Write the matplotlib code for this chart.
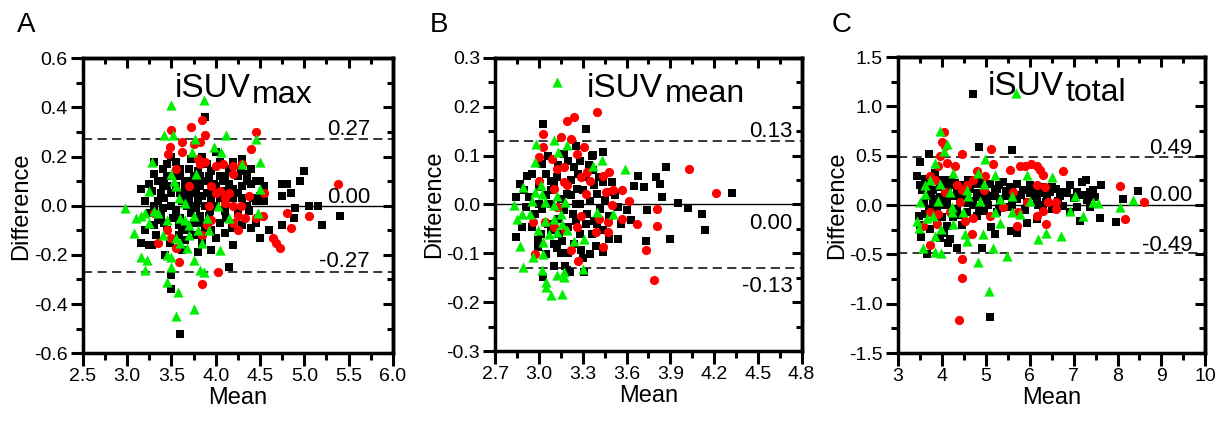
import numpy as np
import matplotlib
matplotlib.use("Agg")
import matplotlib.pyplot as plt
from matplotlib.ticker import MultipleLocator, FuncFormatter

plt.rcParams['font.family'] = ['Liberation Sans', 'DejaVu Sans']

# ---- panel A: iSUVmax (mean, difference) ----
a_squares = [(3.88, 0.36), (3.3, 0.18), (3.4, 0.15), (3.45, 0.12), (3.5, 0.2), (3.55, 0.18), (3.6, 0.15),
             (3.65, 0.1), (3.15, 0.07), (3.25, 0.09), (3.28, 0.06), (3.38, 0.05), (3.42, 0.03), (3.45, 0.08),
             (3.6, 0.05), (3.7, 0.03), (3.75, 0.12), (3.78, 0.07), (3.8, 0.02), (3.82, 0.08), (3.85, 0.1),
             (3.9, 0.05), (3.92, 0.12), (3.95, 0.02), (4.0, 0.22), (4.05, 0.18), (4.1, 0.12), (4.15, 0.09),
             (4.2, 0.18), (4.25, 0.12), (4.3, 0.19), (4.35, 0.13), (4.4, 0.09), (4.45, 0.1), (4.5, 0.1),
             (4.55, 0.02), (4.75, 0.09), (4.8, 0.09), (4.85, 0.05), (4.75, 0.04), (4.95, 0.1), (5.0, 0.14),
             (4.9, -0.01), (4.88, -0.05), (5.05, 0.0), (5.15, 0.0), (5.2, -0.08), (5.4, -0.04), (4.75, -0.08),
             (3.15, -0.15), (3.2, -0.1), (3.25, -0.16), (3.3, -0.08), (3.35, -0.06), (3.38, -0.04), (3.45, -0.1),
             (3.48, -0.15), (3.5, -0.28), (3.5, -0.34), (3.6, -0.52), (3.43, -0.2), (3.62, -0.18), (3.65, -0.14),
             (3.7, -0.1), (3.75, -0.07), (3.8, -0.19), (3.85, -0.15), (3.95, -0.18), (4.0, -0.13), (4.05, -0.07),
             (4.1, -0.11), (4.15, -0.25), (4.2, -0.16), (4.12, -0.05), (4.3, -0.08), (4.38, -0.02), (4.4, -0.09),
             (4.5, -0.13), (4.45, -0.07), (3.5, 0.0), (3.55, -0.02), (3.6, -0.05), (3.68, 0.0), (3.72, -0.03),
             (3.78, -0.01), (3.82, -0.04), (3.88, 0.0), (3.93, -0.02), (4.0, 0.0), (4.05, 0.03), (4.15, 0.03),
             (4.25, 0.05), (4.35, 0.0), (4.42, 0.03), (4.5, 0.04), (3.2, 0.02), (3.25, -0.03), (3.35, 0.02),
             (3.4, -0.01), (3.68, 0.05), (3.72, 0.1), (3.8, 0.14), (3.85, 0.2), (3.9, 0.17), (3.95, 0.14),
             (3.98, 0.09), (3.6, 0.12), (3.55, 0.08), (3.5, 0.05), (3.62, -0.1), (3.58, -0.08), (4.3, 0.08),
             (4.2, 0.07), (4.1, 0.06), (3.75, 0.05), (3.85, 0.04), (3.42, 0.1), (3.32, -0.12), (3.28, -0.16),
             (3.65, 0.07), (3.7, 0.15), (3.75, 0.0), (3.8, 0.1), (3.85, -0.07), (3.9, 0.1), (3.95, -0.1),
             (4.0, 0.08), (4.05, 0.12), (4.1, -0.02), (4.15, 0.15), (4.2, 0.03), (4.25, -0.02), (4.3, 0.03),
             (4.35, 0.1), (4.4, 0.15), (4.45, 0.02), (3.55, 0.12), (3.45, 0.17), (3.35, 0.1), (3.3, 0.0),
             (3.58, -0.12), (3.68, -0.08), (3.78, -0.12), (3.88, -0.09), (3.72, 0.19), (3.62, 0.02),
             (3.52, -0.05), (3.42, -0.07), (4.55, 0.08), (4.6, -0.1), (4.08, 0.1), (3.98, 0.05), (3.82, 0.12),
             (3.92, -0.04), (4.18, -0.09), (4.28, 0.14), (3.4, 0.08), (3.3, 0.13)]
a_circles = [(3.5, 0.31), (3.72, 0.32), (3.85, 0.35), (3.88, 0.29), (3.82, 0.26), (3.75, 0.25), (3.62, 0.26),
             (3.48, 0.24), (3.46, 0.21), (3.62, 0.22), (3.8, 0.19), (3.82, 0.17), (3.88, 0.18), (4.45, 0.3),
             (4.4, 0.23), (4.3, 0.17), (4.2, 0.16), (4.08, 0.17), (4.0, 0.16), (4.2, 0.13), (3.55, 0.15),
             (3.7, 0.08), (3.95, 0.08), (4.05, 0.06), (4.15, 0.05), (3.92, 0.0), (4.2, 0.0), (4.28, 0.0),
             (4.1, 0.01), (4.38, 0.04), (4.45, -0.05), (4.53, -0.04), (4.55, 0.05), (3.3, -0.03), (3.45, -0.1),
             (3.35, -0.15), (3.5, -0.13), (3.55, -0.17), (3.58, -0.23), (3.85, -0.12), (3.9, -0.08),
             (3.95, -0.06), (4.2, -0.07), (4.25, -0.04), (4.33, -0.05), (4.25, -0.1), (4.65, -0.13),
             (4.68, -0.15), (4.72, -0.17), (4.8, -0.03), (4.85, -0.09), (5.05, -0.04), (5.38, 0.09),
             (4.02, -0.27), (3.85, -0.32), (4.1, 0.03), (4.0, 0.05)]
a_triangles = [(2.97, -0.01), (3.5, 0.41), (3.87, 0.43), (3.42, 0.29), (3.52, 0.29), (3.77, 0.27), (4.12, 0.29),
               (4.45, 0.27), (3.98, 0.24), (3.73, 0.22), (4.06, 0.22), (4.3, 0.17), (4.5, 0.18), (3.28, 0.18),
               (3.78, 0.13), (3.5, 0.13), (3.53, 0.1), (3.55, 0.08), (4.5, 0.07), (3.25, 0.06), (3.58, 0.03),
               (3.65, 0.01), (4.03, 0.0), (3.3, -0.02), (3.15, -0.04), (3.2, -0.03), (3.1, -0.05), (3.25, -0.07),
               (3.35, -0.03), (3.45, -0.06), (3.6, -0.05), (3.65, -0.06), (3.7, -0.08), (3.75, -0.04),
               (3.8, -0.1), (3.9, -0.05), (4.15, -0.05), (4.48, -0.03), (3.08, -0.11), (3.4, -0.12),
               (3.55, -0.13), (3.6, -0.15), (3.68, -0.17), (3.85, -0.15), (3.92, -0.1), (4.05, -0.18),
               (3.15, -0.21), (3.22, -0.22), (3.2, -0.26), (3.45, -0.2), (3.5, -0.21), (3.5, -0.25), (3.75, -0.22),
               (3.82, -0.26), (3.87, -0.27), (3.45, -0.31), (3.57, -0.35), (3.55, -0.45), (3.75, -0.42),
               (3.7, -0.12)]

# ---- panel B: iSUVmean ----
b_squares = [(3.03, 0.164), (3.32, 0.154), (3.37, 0.102), (3.44, 0.107), (3.68, 0.059), (3.65, 0.037),
             (3.72, 0.035), (3.80, 0.056), (3.83, 0.042), (3.87, 0.076), (3.84, 0.016), (3.95, 0.003),
             (4.02, -0.007), (4.12, -0.019), (4.14, -0.053), (4.32, 0.024), (3.90, -0.07), (3.74, -0.012),
             (3.73, -0.074), (3.63, -0.031), (3.60, -0.012), (3.54, -0.07), (3.48, -0.07), (3.44, -0.098),
             (3.39, -0.084), (3.35, -0.101), (3.44, -0.053), (3.31, -0.139), (3.21, -0.139), (3.18, -0.125),
             (3.10, -0.125), (3.03, -0.149), (3.19, -0.135), (2.99, -0.087), (2.99, -0.072), (2.84, -0.067),
             (2.88, -0.046), (2.84, 0.015), (2.87, 0.042), (2.92, 0.058), (2.93, 0.015), (2.95, 0.063),
             (3.02, 0.083), (3.05, 0.063), (3.08, 0.049), (3.12, 0.056), (3.17, 0.104), (3.20, 0.09),
             (3.24, 0.076), (3.27, 0.063), (3.32, 0.056), (3.37, 0.07), (3.41, 0.056), (3.44, 0.046),
             (3.50, 0.046), (3.49, 0.025), (3.40, 0.022), (3.35, 0.008), (3.26, 0.032), (3.19, 0.022),
             (3.15, 0.012), (3.08, 0.001), (3.02, -0.009), (3.17, -0.012), (3.23, -0.019), (3.28, 0.001),
             (3.33, -0.019), (3.38, -0.033), (3.32, -0.04), (3.25, -0.033), (3.20, -0.046), (3.14, -0.06),
             (3.08, -0.053), (3.16, -0.074), (3.24, -0.081), (3.29, -0.094), (3.01, -0.06), (2.95, -0.046),
             (2.91, -0.005), (3.10, -0.081), (3.05, -0.101), (3.08, 0.029), (3.00, 0.035), (3.54, -0.005),
             (3.48, -0.023), (3.05, 0.02), (3.1, 0.04), (3.13, -0.03), (3.22, 0.05), (3.25, 0.0), (3.28, -0.06),
             (3.3, 0.03), (3.34, 0.08), (3.38, 0.04), (3.42, -0.01), (3.45, 0.01), (3.36, -0.06), (3.2, -0.1),
             (3.12, -0.09), (3.06, -0.04), (3.0, 0.0), (2.97, -0.02), (3.13, 0.08), (3.22, 0.02), (3.28, 0.09),
             (3.3, -0.11), (3.4, -0.04), (3.52, 0.02), (3.56, -0.04), (3.15, -0.1), (2.9, 0.03), (3.06, 0.1),
             (3.25, 0.12), (3.36, 0.1)]
b_circles = [(3.40, 0.189), (3.24, 0.18), (3.19, 0.171), (3.03, 0.145), (3.15, 0.138), (3.22, 0.134),
             (3.31, 0.117), (3.26, 0.104), (3.03, 0.117), (3.00, 0.097), (3.09, 0.094), (3.17, 0.076),
             (3.12, 0.073), (3.33, 0.066), (3.29, 0.056), (3.35, 0.049), (3.48, 0.066), (3.44, 0.059),
             (3.00, 0.049), (3.17, 0.046), (3.19, 0.039), (3.10, 0.032), (3.32, 0.022), (3.51, 0.029),
             (3.57, 0.029), (3.46, 0.025), (3.62, 0.008), (3.50, -0.002), (4.03, 0.073), (4.21, 0.023),
             (3.81, -0.009), (3.57, -0.029), (3.67, -0.04), (3.81, -0.045), (3.41, -0.029), (3.47, -0.036),
             (3.47, -0.057), (3.39, -0.057), (3.26, -0.046), (3.29, -0.023), (2.96, -0.036), (3.04, -0.036),
             (3.10, -0.046), (3.18, -0.053), (3.44, -0.087), (3.22, -0.094), (3.27, -0.115), (3.73, -0.094),
             (3.79, -0.154), (2.97, -0.101), (3.12, -0.005)]
b_triangles = [(3.12, 0.25), (2.98, 0.124), (3.10, 0.131), (3.19, 0.121), (3.13, 0.107), (2.97, 0.087),
               (3.37, 0.078), (3.43, 0.091), (3.59, 0.073), (2.89, 0.035), (2.97, 0.025), (3.02, 0.022),
               (3.04, 0.005), (2.95, 0.008), (2.83, -0.002), (3.12, 0.018), (3.18, 0.005), (3.10, -0.002),
               (2.88, -0.019), (2.85, -0.029), (2.94, -0.019), (3.04, -0.033), (3.10, -0.029), (3.16, -0.04),
               (3.19, -0.053), (3.12, -0.057), (3.24, -0.074), (3.31, -0.07), (3.40, -0.016), (3.51, -0.019),
               (2.87, -0.084), (3.03, -0.077), (2.96, -0.108), (3.03, -0.101), (2.89, -0.128), (3.02, -0.135),
               (3.30, -0.132), (3.05, -0.159), (3.12, -0.145), (3.17, -0.149), (3.17, -0.139), (3.08, -0.186),
               (3.16, -0.183), (3.05, -0.169), (2.99, -0.053), (3.07, -0.06), (3.15, -0.019), (3.01, 0.039)]

# ---- panel C: iSUVtotal ----
c_squares = [(4.70, 1.125), (4.85, 0.59), (5.59, 0.56), (3.71, 0.52), (3.51, 0.44), (3.43, 0.30), (3.62, 0.26),
             (3.85, 0.33), (4.04, 0.25), (4.19, 0.20), (4.34, 0.15), (4.49, 0.20), (4.64, 0.16), (4.79, 0.21),
             (4.95, 0.16), (5.10, 0.21), (5.25, 0.16), (5.40, 0.23), (5.55, 0.18), (5.70, 0.21), (5.85, 0.15),
             (6.01, 0.20), (6.16, 0.15), (6.31, 0.18), (6.46, 0.13), (6.61, 0.16), (6.76, 0.13), (6.91, 0.20),
             (7.07, 0.13), (7.18, 0.23), (7.29, 0.25), (7.37, 0.13), (7.48, 0.08), (7.63, 0.20), (7.59, -0.13),
             (7.14, -0.16), (6.91, -0.07), (7.97, -0.17), (8.12, 0.06), (8.47, 0.14), (5.51, 0.09), (5.32, 0.06),
             (5.17, 0.09), (5.02, 0.04), (4.87, 0.08), (4.72, 0.04), (4.57, 0.08), (4.42, 0.04), (4.26, 0.09),
             (4.11, 0.04), (3.96, 0.08), (3.81, 0.06), (3.66, 0.09), (5.70, 0.06), (5.93, 0.03), (6.16, 0.06),
             (6.38, 0.03), (6.65, 0.04), (5.93, -0.18), (6.16, -0.14), (5.57, -0.26), (5.70, -0.28),
             (5.21, -0.29), (5.13, -0.22), (4.91, -0.43), (5.10, -1.13), (4.79, -0.11), (4.57, -0.07),
             (4.34, -0.43), (4.19, -0.34), (4.04, -0.28), (4.11, -0.21), (3.89, -0.18), (3.73, -0.24),
             (3.53, -0.32), (3.67, -0.50), (3.47, -0.11), (3.62, -0.09), (4.34, -0.04), (4.95, -0.06),
             (5.25, -0.07), (5.55, -0.02), (6.31, -0.02), (6.76, -0.01), (7.37, -0.02), (7.07, -0.02),
             (3.55, 0.15), (3.75, 0.12), (3.95, 0.18), (4.15, 0.13), (4.4, 0.12), (4.6, 0.02), (3.9, -0.05),
             (4.05, 0.0), (4.25, -0.12), (4.45, -0.2), (3.6, 0.02), (3.5, 0.2), (3.7, 0.22), (3.8, 0.15),
             (3.9, 0.25), (4.0, 0.2), (4.1, 0.17), (4.2, 0.25), (4.3, 0.22), (4.5, 0.12), (4.6, 0.25), (4.8, 0.12),
             (4.9, 0.24), (5.0, 0.1), (5.2, 0.13), (5.3, 0.2), (5.45, 0.14), (5.6, 0.13), (5.8, 0.1), (6.0, 0.12),
             (6.1, 0.09), (6.25, 0.12), (6.4, 0.1), (6.5, 0.18), (6.7, 0.09), (6.85, 0.12), (7.0, 0.07),
             (7.2, 0.1), (7.3, 0.05), (7.45, 0.15), (3.7, -0.05), (3.8, 0.02), (4.0, -0.12), (4.2, -0.05),
             (4.4, -0.1), (4.7, 0.0), (4.85, -0.03), (5.05, 0.0), (5.3, -0.03), (5.6, 0.0), (5.9, -0.05),
             (6.2, 0.0), (6.5, -0.04), (3.5, -0.2), (3.95, -0.33), (4.15, -0.38)]
c_circles = [(4.04, 0.74), (4.0, 0.64), (4.08, 0.60), (3.96, 0.50), (4.11, 0.43), (3.92, 0.40), (4.45, 0.52),
             (5.13, 0.57), (4.30, 0.40), (3.85, 0.25), (3.73, 0.30), (4.79, 0.35), (4.98, 0.30), (5.17, 0.42),
             (5.55, 0.36), (5.78, 0.40), (5.89, 0.40), (6.04, 0.42), (6.16, 0.40), (6.23, 0.36), (6.31, 0.31),
             (6.76, 0.35), (4.72, 0.25), (4.57, 0.20), (4.45, 0.15), (4.08, 0.13), (4.34, 0.20), (4.95, 0.15),
             (6.16, 0.20), (6.35, 0.18), (6.61, 0.03), (6.42, 0.03), (6.61, -0.04), (6.31, -0.06),
             (6.38, -0.19), (5.70, -0.21), (6.16, -0.11), (5.74, -0.07), (5.40, -0.02), (5.10, -0.11),
             (4.72, -0.13), (4.53, -0.16), (4.68, -0.29), (4.45, -0.55), (4.45, -0.74), (4.38, -1.16),
             (3.73, -0.40), (3.89, -0.19), (3.57, -0.21), (3.73, -0.07), (3.92, -0.09), (4.19, -0.07),
             (8.05, 0.19), (8.16, -0.14), (8.60, 0.03), (4.42, 0.03), (5.63, 0.13), (5.93, 0.03)]
c_triangles = [(5.69, 1.14), (3.96, 0.75), (4.11, 0.62), (4.04, 0.55), (3.85, 0.43), (4.98, 0.47), (4.83, 0.33),
               (5.21, 0.31), (5.93, 0.31), (6.50, 0.28), (3.73, 0.25), (3.62, 0.20), (3.96, 0.21), (4.26, 0.33),
               (3.62, 0.11), (3.51, 0.03), (3.92, 0.04), (4.19, 0.13), (4.57, 0.15), (4.95, 0.21), (4.60, 0.09),
               (4.87, 0.04), (5.32, 0.06), (5.59, 0.09), (6.01, 0.04), (7.03, 0.09), (7.44, 0.03), (7.56, 0.02),
               (8.05, -0.02), (8.35, 0.05), (6.91, -0.06), (7.21, -0.11), (5.78, -0.09), (5.59, -0.07),
               (5.21, -0.07), (5.32, -0.18), (3.43, -0.16), (3.47, -0.23), (3.66, -0.13), (3.81, -0.11),
               (3.99, -0.24), (4.26, -0.19), (3.85, -0.31), (4.57, -0.36), (4.53, -0.29), (4.93, -0.29),
               (5.17, -0.43), (5.48, -0.52), (6.19, -0.34), (6.38, -0.28), (6.72, -0.31), (3.58, -0.43),
               (3.85, -0.47), (3.99, -0.49), (4.83, -0.58), (5.08, -0.87), (4.49, -0.07), (4.23, -0.02),
               (4.23, -0.07)]

panels = ['A', 'B', 'C']
subscripts = ['max', 'mean', 'total']
limits = [0.27, 0.13, 0.49]
limit_labels = [('0.27', '0.00', '-0.27'), ('0.13', '0.00', '-0.13'), ('0.49', '0.00', '-0.49')]

fig = plt.figure(figsize=(12.2, 4.26), dpi=100)

axes_rects = [(0.068, 0.171, 0.254, 0.692), (0.406, 0.176, 0.251, 0.688), (0.736, 0.171, 0.252, 0.695)]
xlims = [(2.5, 6.0), (2.7, 4.8), (3, 10)]
ylims = [(-0.6, 0.6), (-0.3, 0.3), (-1.5, 1.5)]
x_steps = [(0.5, 0.25), (0.3, 0.15), (1, 0.5)]
y_steps = [(0.2, 0.1), (0.1, 0.05), (0.5, 0.25)]
x_fmt = ['%.1f', '%.1f', '%.0f']
y_fmt = ['%.1f', '%.1f', '%.1f']
title_pos = [(0.295, 0.868), (0.30, 0.867), (0.292, 0.872)]
label_x = [0.926, 0.97, 0.958]
# offsets (points) of the three line labels: upper, zero, lower
label_offsets = [(3, 2, 4), (3, -6, -6), (2, 3, 2)]

data = [(a_squares, a_circles, a_triangles),
        (b_squares, b_circles, b_triangles),
        (c_squares, c_circles, c_triangles)]


def fmt(pattern):
    return FuncFormatter(lambda v, p: pattern % (round(v, 4) + 0.0))


for i in range(3):
    ax = fig.add_axes(axes_rects[i])
    sq, ci, tr = [np.array(s) for s in data[i]]
    ax.scatter(sq[:, 0], sq[:, 1], marker='s', s=34, c='black', linewidths=0, zorder=3)
    ax.scatter(ci[:, 0], ci[:, 1], marker='o', s=44, c='#ff0000', linewidths=0, zorder=4)
    ax.scatter(tr[:, 0], tr[:, 1], marker='^', s=54, c='#00ee00', linewidths=0, zorder=5)

    lim = limits[i]
    ax.axhline(0, color='black', lw=1.0, zorder=2)
    ax.axhline(lim, color='black', lw=1.1, ls=(0, (6, 3.5)), zorder=2)
    ax.axhline(-lim, color='black', lw=1.1, ls=(0, (6, 3.5)), zorder=2)

    for val, txt, off in zip([lim, 0, -lim], limit_labels[i], label_offsets[i]):
        ax.annotate(txt, xy=(label_x[i], val), xycoords=('axes fraction', 'data'),
                    xytext=(0, off), textcoords='offset points', ha='right',
                    va='baseline' if off > 0 else 'top', fontsize=16, zorder=6)

    ax.set_xlim(*xlims[i])
    ax.set_ylim(*ylims[i])
    ax.xaxis.set_major_locator(MultipleLocator(x_steps[i][0]))
    ax.xaxis.set_minor_locator(MultipleLocator(x_steps[i][1]))
    ax.yaxis.set_major_locator(MultipleLocator(y_steps[i][0]))
    ax.yaxis.set_minor_locator(MultipleLocator(y_steps[i][1]))
    ax.xaxis.set_major_formatter(fmt(x_fmt[i]))
    ax.yaxis.set_major_formatter(fmt(y_fmt[i]))
    ax.tick_params(which='major', direction='out', length=9, width=2.2, labelsize=14, pad=2)
    ax.tick_params(which='minor', direction='out', length=5, width=2.2)
    for sp in ax.spines.values():
        sp.set_linewidth(2.5)

    # mirror ticks pointing inwards on top and right
    top = ax.secondary_xaxis('top')
    top.xaxis.set_major_locator(MultipleLocator(x_steps[i][0]))
    top.xaxis.set_minor_locator(MultipleLocator(x_steps[i][1]))
    top.tick_params(which='major', direction='in', length=7, width=2.2, labeltop=False)
    top.tick_params(which='minor', direction='in', length=4.5, width=2.2)
    top.spines['top'].set_linewidth(2.5)
    right = ax.secondary_yaxis('right')
    right.yaxis.set_major_locator(MultipleLocator(y_steps[i][0]))
    right.yaxis.set_minor_locator(MultipleLocator(y_steps[i][1]))
    right.tick_params(which='major', direction='in', length=7, width=2.2, labelright=False)
    right.tick_params(which='minor', direction='in', length=4.5, width=2.2)
    right.spines['right'].set_linewidth(2.5)

    ax.set_xlabel('Mean', fontsize=17, labelpad=1)
    ax.set_ylabel('Difference', fontsize=17, labelpad=1)

    tx, ty = title_pos[i]
    t = ax.text(tx, ty, 'iSUV', transform=ax.transAxes, fontsize=24, ha='left', va='baseline', zorder=6)
    ax.annotate(subscripts[i], xy=(1, 0), xycoords=t, xytext=(1, -4), textcoords='offset points',
                fontsize=23, ha='left', va='bottom', zorder=6)

    fig.text(axes_rects[i][0] - 0.054, 0.925, panels[i], fontsize=20, ha='left', va='baseline')

fig.savefig('out.png', dpi=100)
